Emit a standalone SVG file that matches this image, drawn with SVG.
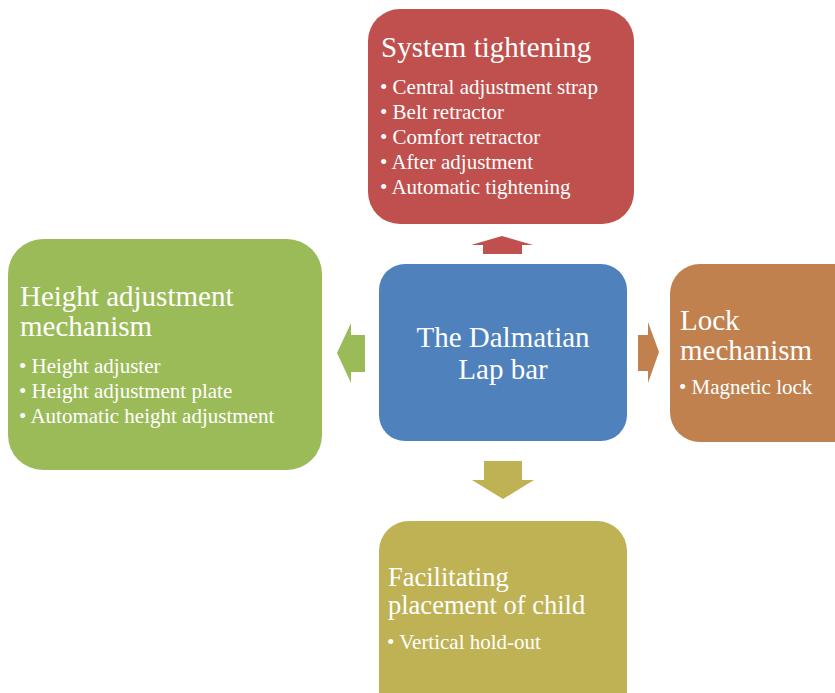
<svg xmlns="http://www.w3.org/2000/svg" width="835" height="693" viewBox="0 0 835 693">
  <style>
    text { font-family: "Liberation Serif", "Times New Roman", serif; fill: #ffffff; }
    .title { font-size: 29px; }
    .title-sm { font-size: 26.5px; }
    .item { font-size: 21px; }
    .red { fill: #C0504D; }
    .green { fill: #9BBB59; }
    .blue { fill: #4F81BD; }
    .orange { fill: #C0814F; }
    .olive { fill: #BFB255; }
  </style>

  <rect width="835" height="693" fill="#ffffff"/>

  <!-- arrows from the hub to each satellite -->
  <g id="connectors">
    <polygon class="red" points="483,254 522,254 522,245 533,245 502,236 471,245 483,245"/>
    <polygon class="green" points="365,335 365,372 351,372 351,383 337,353 351,323 351,335"/>
    <polygon class="orange" points="638,335 648,335 648,322 659,352 648,383 648,371 638,371"/>
    <polygon class="olive" points="484,461 522,461 522,480 534,480 503,499 472,480 484,480"/>
  </g>

  <g id="hub">
    <rect class="blue" x="379" y="264" width="248" height="177" rx="26"/>
    <text class="title" x="503" y="347" text-anchor="middle">The Dalmatian</text>
    <text class="title" x="503" y="379" text-anchor="middle">Lap bar</text>
  </g>

  <g id="system-tightening">
    <rect class="red" x="368" y="9" width="266" height="215" rx="32"/>
    <text class="title" x="381" y="57">System tightening</text>
    <text class="item" x="380" y="94">• Central adjustment strap</text>
    <text class="item" x="380" y="119">• Belt retractor</text>
    <text class="item" x="380" y="144">• Comfort retractor</text>
    <text class="item" x="380" y="169">• After adjustment</text>
    <text class="item" x="380" y="194">• Automatic tightening</text>
  </g>

  <g id="height-adjustment">
    <rect class="green" x="8" y="239" width="314" height="231" rx="35"/>
    <text class="title" x="20" y="306">Height adjustment</text>
    <text class="title" x="20" y="336">mechanism</text>
    <text class="item" x="19" y="373">• Height adjuster</text>
    <text class="item" x="19" y="398">• Height adjustment plate</text>
    <text class="item" x="19" y="423">• Automatic height adjustment</text>
  </g>

  <g id="lock-mechanism">
    <rect class="orange" x="670" y="264" width="200" height="178" rx="30"/>
    <text class="title" x="680" y="330">Lock</text>
    <text class="title" x="680" y="360">mechanism</text>
    <text class="item" x="679" y="394">• Magnetic lock</text>
  </g>

  <g id="child-placement">
    <rect class="olive" x="379" y="521" width="248" height="200" rx="30"/>
    <text class="title-sm" x="388" y="586">Facilitating</text>
    <text class="title-sm" x="388" y="614">placement of child</text>
    <text class="item" x="387" y="649">• Vertical hold-out</text>
  </g>
</svg>
